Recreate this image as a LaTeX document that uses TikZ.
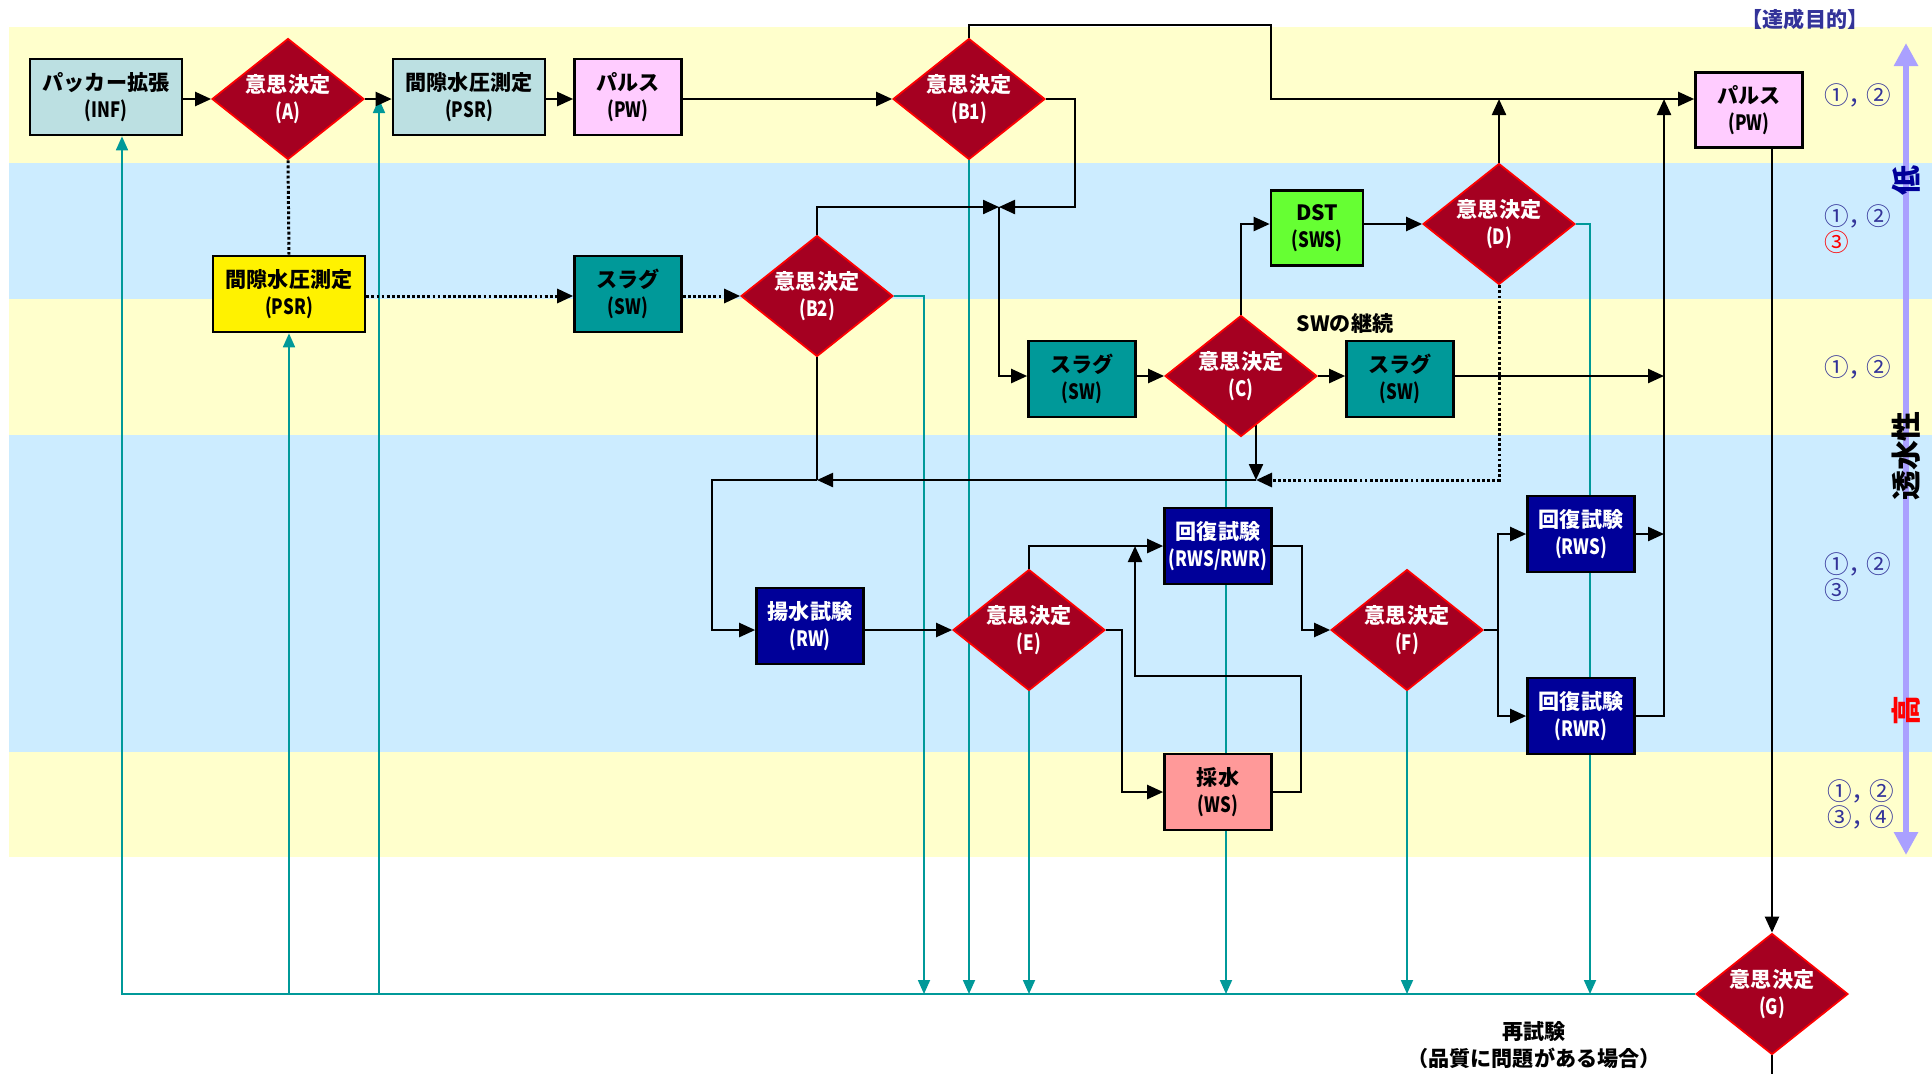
\documentclass[tikz,border=0pt]{standalone}
\usepackage{fontspec}
\setmainfont{Noto Sans CJK JP}
\newfontfamily\codefont[FakeStretch=0.8]{Noto Sans CJK JP}
\usetikzlibrary{shapes.geometric,arrows.meta,backgrounds}
\definecolor{bandyellow}{RGB}{255,255,204}
\definecolor{bandblue}{RGB}{204,236,255}
\definecolor{boxcyan}{RGB}{188,224,226}
\definecolor{boxpink}{RGB}{255,204,255}
\definecolor{boxteal}{RGB}{0,153,153}
\definecolor{boxgreen}{RGB}{102,255,51}
\definecolor{boxnavy}{RGB}{0,0,153}
\definecolor{boxsalmon}{RGB}{255,153,153}
\definecolor{decred}{RGB}{165,0,33}
\definecolor{tealline}{RGB}{0,153,153}
\definecolor{lavender}{RGB}{170,160,255}
\definecolor{goalblue}{RGB}{51,51,153}
\newcommand{\code}[1]{{\codefont(#1)}}
\newcommand{\gsep}{，\kern-0.3em}

\begin{document}
\begin{tikzpicture}[x=0.2mm,y=-0.2mm,
    proc/.style={draw=black,line width=1.5pt,align=center,inner sep=0pt,
      minimum height=15.2mm,font=\nodefontsize\bfseries},
    widebox/.style={proc,minimum width=30.4mm},
    smallbox/.style={proc,minimum width=21.4mm},
    decide/.style={diamond,aspect=1.25,draw=red,line width=1pt,fill=decred,
      text=white,align=center,inner sep=0pt,minimum width=30.4mm,
      minimum height=24.2mm,font=\nodefontsize\bfseries},
    flow/.style={line width=1.3pt},
    arr/.style={flow,-{Triangle[length=3.2mm,width=2.8mm]}},
    dotline/.style={line width=1.7pt,dash pattern=on 1.6pt off 1.3pt},
    dotarr/.style={arr,dotline},
    back/.style={tealline,line width=1pt},
    backarr/.style={back,-{Triangle[length=2.8mm,width=2.4mm]}},
    goal/.style={anchor=west,align=left,text=goalblue,
      font=\fontsize{14pt}{14.7pt}\selectfont},
    axislabel/.style={rotate=90,font=\fontsize{17pt}{17pt}\selectfont\bfseries}]
    \providecommand{\nodefontsize}{\fontsize{12pt}{15pt}\selectfont}
    \useasboundingbox (0,0) rectangle (1932,1073);

    % first path
    \node[widebox,fill=boxcyan] (INF) at (106,97) {パッカー拡張\\\code{INF}};
    \node[decide] (A) at (288,99) {意思決定\\\code{A}};
    \node[widebox,fill=boxcyan] (PSR) at (469,97) {間隙水圧測定\\\code{PSR}};
    \node[smallbox,fill=boxpink] (PW) at (628,97) {パルス\\\code{PW}};
    \node[decide] (B1) at (969,99) {意思決定\\\code{B1}};
    \node[smallbox,fill=boxpink,minimum height=15mm] (PWR) at (1749,110) {パルス\\\code{PW}};

    % second path
    \node[widebox,fill=yellow] (PSRy) at (289,294) {間隙水圧測定\\\code{PSR}};
    \node[smallbox,fill=boxteal] (SW1) at (628,294) {スラグ\\\code{SW}};
    \node[decide] (B2) at (817,296) {意思決定\\\code{B2}};
    \node[proc,fill=boxgreen,minimum width=18.4mm,minimum height=15mm] (DST) at (1317,228) {DST\\\code{SWS}};
    \node[decide] (D) at (1499,224) {意思決定\\\code{D}};
    \node[smallbox,fill=boxteal] (SW2) at (1082,379) {スラグ\\\code{SW}};
    \node[decide] (C) at (1241,376) {意思決定\\\code{C}};
    \node[smallbox,fill=boxteal] (SW3) at (1400,379) {スラグ\\\code{SW}};
    \node[font=\nodefontsize\bfseries] (cont) at (1345,323) {SWの継続};

    % pumping tests
    \node[smallbox,fill=boxnavy,text=white] (RW) at (810,626) {揚水試験\\\code{RW}};
    \node[decide] (E) at (1029,630) {意思決定\\\code{E}};
    \node[smallbox,fill=boxnavy,text=white] (RWx) at (1218,546) {回復試験\\\code{RWS/RWR}};
    \node[smallbox,fill=boxsalmon] (WS) at (1218,792) {採水\\\code{WS}};
    \node[decide] (F) at (1407,630) {意思決定\\\code{F}};
    \node[smallbox,fill=boxnavy,text=white] (RWS) at (1581,534) {回復試験\\\code{RWS}};
    \node[smallbox,fill=boxnavy,text=white] (RWR) at (1581,716) {回復試験\\\code{RWR}};
    \node[decide] (G) at (1772,994) {意思決定\\\code{G}};
    \node[align=center,font=\nodefontsize\bfseries] (retry) at (1534,1045) {再試験\\（品質に問題がある場合）};

    % goals and permeability axis
    \node[text=goalblue,font=\fontsize{12pt}{14pt}\selectfont\bfseries] (goaltitle) at (1805,19) {【達成目的】};
    \node[goal] (g1) at (1818,95) {①\gsep②};
    \node[goal] (g2) at (1818,229) {①\gsep②\\\textcolor{red}{③}};
    \node[goal] (g3) at (1818,367) {①\gsep②};
    \node[goal] (g4) at (1818,577) {①\gsep②\\③};
    \node[goal] (g5) at (1821,804) {①\gsep②\\③\gsep④};
    \draw[lavender,line width=1.3mm,{Triangle[length=4.6mm,width=4.6mm]}-{Triangle[length=4.6mm,width=4.6mm]}] (1906,43) -- (1906,855);
    \node[axislabel,text=boxnavy] (low) at (1906,181) {低};
    \node[axislabel] (perm) at (1906,456) {透水性};
    \node[axislabel,text=red] (high) at (1906,711) {高};

    \coordinate (jTop) at (1271,25);
    \coordinate (jB) at (999,207);
    \coordinate (jC) at (1256,480);
    \coordinate (jL) at (712,480);
    \coordinate (xR) at (1664,99);
    \coordinate (jWS) at (1135,676);
    \coordinate (bL) at (122,994);
    \coordinate (tA) at (379,99);
    \coordinate (tB) at (924,994);
    \coordinate (tC) at (1226,400);
    \coordinate (tD) at (1590,994);

    \begin{scope}[on background layer]
      \fill[bandyellow] (9,27) rectangle (1932,163);
      \fill[bandblue] (9,163) rectangle (1932,299);
      \fill[bandyellow] (9,299) rectangle (1932,435);
      \fill[bandblue] (9,435) rectangle (1932,752);
      \fill[bandyellow] (9,752) rectangle (1932,857);
      % retest lines
      \draw[backarr] (G.west) -- (bL) -- (bL |- INF.south);
      \draw[backarr] (PSRy |- bL) -- (PSRy.south);
      \draw[backarr] (tA |- bL) -- (tA);
      \draw[backarr] (B2.east) -| (tB);
      \draw[backarr] (B1.south) -- (B1.south |- bL);
      \draw[backarr] (E.south) -- (E.south |- bL);
      \draw[backarr] (tC) -- (tC |- bL);
      \draw[backarr] (F.south) -- (F.south |- bL);
      \draw[backarr] (D.east) -| (tD);
      \draw[arr] (C.center -| jC) -- (jC);
    \end{scope}

    \draw[arr] (INF.east |- A) -- (A.west);
    \draw[arr] (A.east) -- (A.east -| PSR.west);
    \draw[arr] (PSR.east |- A) -- (PW.west |- A);
    \draw[arr] (PW.east |- B1) -- (B1.west);
    \draw[arr] (B1.north) |- (jTop) |- (PWR.west |- B1);
    \draw[arr] (D.north) -- (D.north |- B1);
    \draw[arr] (B1.east) -- ++(29,0) |- (jB);
    \draw[arr] (B2.north) |- (jB);
    \draw[arr] (jB) |- (SW2.west |- C);
    \draw[dotline] (A.south) -- (PSRy.north);
    \draw[dotarr] (PSRy.east |- B2) -- (SW1.west |- B2);
    \draw[dotarr] (SW1.east |- B2) -- (B2.west);
    \draw[arr] (SW2.east |- C) -- (C.west);
    \draw[arr] (C.east) -- (SW3.west |- C);
    \draw[arr] (C.north) |- (DST.west |- D);
    \draw[arr] (DST.east |- D) -- (D.west);
    \draw[dotarr] (D.south) |- (jC);
    \draw[arr] (jC) -- (jC -| B2);
    \draw[flow] (B2.south) -- (B2 |- jC);
    \draw[arr] (B2 |- jC) -- (jL) |- (RW.west |- E);
    \draw[arr] (RW.east |- E) -- (E.west);
    \draw[arr] (E.north) |- (RWx.west);
    \draw[arr] (E.east) -- ++(16,0) |- (WS.west);
    \draw[arr] (WS.east) -- ++(28,0) |- (jWS) -- (jWS |- RWx.west);
    \draw[arr] (RWx.east) -- ++(29,0) |- (F.west);
    \draw[arr] (F.east) -- ++(14,0) |- (RWS.west);
    \draw[arr] (F.east) -- ++(14,0) |- (RWR.west);
    \draw[arr] (SW3.east |- C) -- (C -| xR);
    \draw[arr] (RWS.east) -- (RWS.east -| xR);
    \draw[arr] (RWR.east) -| (xR);
    \draw[arr] (G |- PWR.south) -- (G.north);
    \draw[flow] (G.south) -- ++(0,25);
\end{tikzpicture}
\end{document}
